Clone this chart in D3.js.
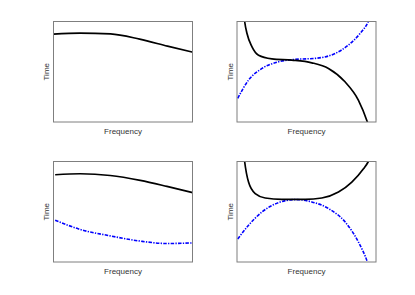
<!DOCTYPE html>
<html>
<head>
<meta charset="utf-8">
<script src="https://cdn.jsdelivr.net/npm/d3@7"></script>
<style>
    body { margin: 0; background: #fff; }
    text { font-family: "Liberation Sans", Arial, sans-serif; }
</style>
</head>
<body>
<div id="grafico"></div>
<script>
// valores (eixos normalizados 0..1)
const freqA = [0.0, 0.19, 0.41, 0.62, 0.82, 1.0];
const tempoA = [0.875, 0.885, 0.877, 0.824, 0.755, 0.695];

const freqB1 = [0.048, 0.055, 0.072, 0.108, 0.155, 0.251, 0.395, 0.538, 0.658, 0.777, 0.873, 0.938, 0.95];
const tempoB1 = [1.08, 1.0, 0.88, 0.748, 0.665, 0.629, 0.616, 0.589, 0.533, 0.4, 0.218, 0.0, -0.05];
const freqB2 = [0.005, 0.083, 0.18, 0.299, 0.419, 0.562, 0.706, 0.801, 0.885, 0.945, 0.96];
const tempoB2 = [0.235, 0.417, 0.533, 0.599, 0.623, 0.633, 0.682, 0.765, 0.88, 1.0, 1.05];

const freqC = [0.012, 0.192, 0.408, 0.624, 0.816, 1.0];
const tempoC1 = [0.868, 0.878, 0.861, 0.812, 0.752, 0.69];
const tempoC2 = [0.416, 0.324, 0.26, 0.208, 0.184, 0.19];

const freqD1 = [0.05, 0.055, 0.083, 0.131, 0.203, 0.323, 0.49, 0.61, 0.73, 0.826, 0.91, 0.945, 0.955];
const tempoD1 = [1.06, 1.0, 0.795, 0.68, 0.637, 0.624, 0.624, 0.637, 0.696, 0.795, 0.927, 1.0, 1.03];
const freqD2 = [0.005, 0.083, 0.18, 0.299, 0.419, 0.538, 0.658, 0.777, 0.873, 0.938, 0.95];
const tempoD2 = [0.228, 0.366, 0.498, 0.591, 0.621, 0.598, 0.532, 0.4, 0.2, 0.0, -0.05];

const rotuloX = "Frequency";
const rotuloY = "Time";

const serie = (xs, ys) => xs.map((x, i) => ({ x, y: ys[i] }));

const paineis = [
    { col: 0, lin: 0, pretas: [serie(freqA, tempoA)], azuis: [] },
    { col: 1, lin: 0, pretas: [serie(freqB1, tempoB1)], azuis: [serie(freqB2, tempoB2)] },
    { col: 0, lin: 1, pretas: [serie(freqC, tempoC1)], azuis: [serie(freqC, tempoC2)] },
    { col: 1, lin: 1, pretas: [serie(freqD1, tempoD1)], azuis: [serie(freqD2, tempoD2)] }
];

const width = 415;
const height = 295;
const esquerdas = [53.5, 237];
const topos = [21.5, 161.5];
const w = 139;
const h = 100.5;

const svg = d3.select("#grafico")
    .append("svg")
    .attr("width", width)
    .attr("height", height);

paineis.forEach((p, i) => {
    const g = svg.append("g")
        .attr("transform", `translate(${esquerdas[p.col]},${topos[p.lin]})`);

    const x = d3.scaleLinear().domain([0, 1]).range([0, w]);
    const y = d3.scaleLinear().domain([0, 1]).range([h, 0]);

    g.append("clipPath")
        .attr("id", "clip" + i)
        .append("rect")
        .attr("width", w)
        .attr("height", h);

    const linha = d3.line()
        .x(d => x(d.x))
        .y(d => y(d.y))
        .curve(d3.curveMonotoneX);

    const area = g.append("g").attr("clip-path", `url(#clip${i})`);

    area.selectAll(".azul")
        .data(p.azuis)
        .enter()
        .append("path")
        .attr("d", linha)
        .attr("fill", "none")
        .attr("stroke", "#0000ff")
        .attr("stroke-width", 1.6)
        .attr("stroke-dasharray", "3.5,1.3,1.3,1.3");

    area.selectAll(".preta")
        .data(p.pretas)
        .enter()
        .append("path")
        .attr("d", linha)
        .attr("fill", "none")
        .attr("stroke", "#000")
        .attr("stroke-width", 1.7);

    // caixa
    g.append("rect")
        .attr("width", w)
        .attr("height", h)
        .attr("fill", "none")
        .attr("stroke", "#7f7f7f")
        .attr("stroke-width", 1);

    g.append("text")
        .attr("x", w / 2)
        .attr("y", h + 12)
        .attr("text-anchor", "middle")
        .attr("font-size", 8)
        .attr("fill", "#333")
        .text(rotuloX);

    g.append("text")
        .attr("transform", `translate(-4.5,${h / 2}) rotate(-90)`)
        .attr("text-anchor", "middle")
        .attr("font-size", 8)
        .attr("fill", "#333")
        .text(rotuloY);
});
</script>
</body>
</html>
